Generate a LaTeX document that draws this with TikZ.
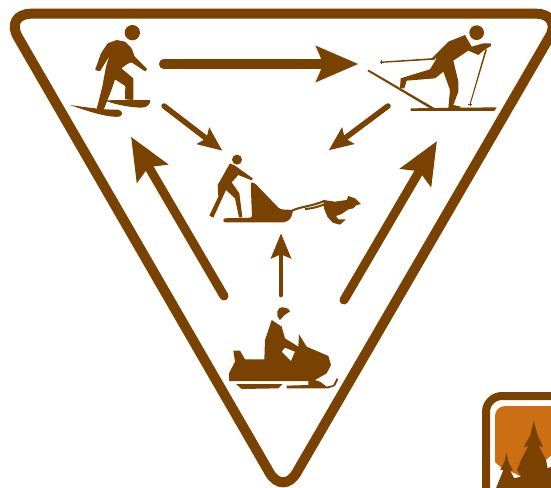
\documentclass[tikz,border=0pt]{standalone}
\usetikzlibrary{arrows.meta}
\definecolor{bb}{HTML}{7A4200}
\definecolor{oo}{HTML}{CC6F14}
\tikzset{
  big/.style={draw=bb,line width=9pt,line cap=round,-{Stealth[length=42pt,width=35pt,inset=7pt]}},
  mid/.style={draw=bb,line width=5.5pt,line cap=round,-{Stealth[length=24pt,width=20pt,inset=4pt]}},
  sm/.style={draw=bb,line width=4.8pt,line cap=round,-{Stealth[length=25pt,width=20pt,inset=4pt]}},
}
\begin{document}
\begin{tikzpicture}[x=1pt,y=-1pt]
\clip (0,0) rectangle (551,487);
\fill[white] (0,0) rectangle (551,487);
% triangle
\draw[bb,line width=10pt,rounded corners=27pt,fill=white] (4.4,13.7)--(563,13.7)--(283,496)--cycle;
% snowshoe
\begin{scope}[shift={(60,10)},scale=1/3]
\fill[bb] (217,68) circle (23);
\fill[bb,rounded corners=.8pt] (170,90)--(195,95)--(215,115)--(224,140)--(262,178)--(255,184)--(215,157)--(205,160)--(184,175)--(220,205)--(220,270)--(195,268)--(196,228)--(165,208)--(155,238)--(132,297)--(110,297)--(127,230)--(138,170)--(148,138)--(120,184)--(105,180)--(123,130)--(143,100)--cycle;
\fill[bb] (30,285) .. controls (80,292) and (130,300) .. (175,299) .. controls (188,302) and (190,315) .. (178,320) .. controls (150,323) and (100,310) .. (30,285)--cycle;
\fill[bb] (135,272) .. controls (170,268) and (230,272) .. (270,270) .. controls (272,280) and (265,292) .. (245,293) .. controls (210,292) and (170,285) .. (135,272)--cycle;
\end{scope}
% skier
\begin{scope}[shift={(360,10)},scale=1/3]
\fill[bb] (350,68) circle (22);
\fill[bb] (315,75)--(335,110)--(370,100)--(392,100)--(393,108)--(375,118)--(355,135)--(325,122)--(280,152)--(295,215)--(295,245)--(280,285)--(302,290)--(300,296)--(265,296)--(270,240)--(250,185)--(225,205)--(140,212)--(133,235)--(120,235)--(122,205)--(210,178)--(230,145)--(215,145)--(265,95)--cycle;
\fill[bb] (60,155)--(225,144)--(225,149)--(60,159)--cycle;
\draw[bb,line width=.6pt] (63,151)--(63,163) (330,276)--(330,287) (324,282)--(337,282);
\fill[bb] (376,118)--(381,118)--(332,282)--(329,282)--cycle;
\fill[bb] (22,183)--(26,179)--(225,295)--(215,298)--cycle;
\fill[bb] (152,295)--(410,292)--(403,303)--(152,303)--cycle;
\end{scope}
% sled
\begin{scope}[shift={(200,145)},scale=1/3]
\fill[bb] (111,44) circle (15);
\fill[bb] (90,55)--(105,62)--(158,100)--(155,106)--(115,90)--(95,112)--(118,145)--(127,217)--(117,217)--(105,160)--(78,135)--(40,218)--(28,212)--(55,155)--(53,120)--cycle;
\fill[bb,rounded corners=2pt] (152,112)--(162,112)--(240,193)--(280,195)--(272,222)--(255,232)--(70,232)--(70,220)--(156,218)--cycle;
\end{scope}
% dog
\begin{scope}[shift={(290,190)},scale=1/3]
\draw[bb,line width=2pt] (6,62) .. controls (30,50) and (70,48) .. (102,33);
\draw[bb,line width=2pt] (45,57) .. controls (65,56) and (85,50) .. (104,43);
\fill[bb] (100,30)--(135,35)--(170,30)--(175,18)--(195,25)--(213,42)--(200,45)--(190,55)--(175,58)--(155,72)--(138,78)--(145,88)--(167,88)--(160,95)--(150,104)--(128,98)--(112,80)--(102,55)--cycle;
\end{scope}
% snowmobile
\begin{scope}[shift={(220,300)},scale=1/3]
\fill[bb] (190,22) .. controls (170,20) and (165,45) .. (180,60) .. controls (190,50) and (190,45) .. (210,35) .. controls (205,25) and (200,23) .. (190,22)--cycle;
\fill[bb,even odd rule] (27,243)--(27,220)--(45,185)--(40,152)--(60,152)--(75,178)--(133,178)--(135,120)--(155,60)--(185,80)--(195,115)--(235,140)--(237,103)--(260,140)--(325,168)--(333,195)--(320,220)--(285,240)--(300,245)--(320,260)--(340,255)--(350,235)--(355,237)--(345,258)--(325,265)--(200,265)--(200,257)--(265,255)--(265,243)--cycle
 (185,155)--(195,143)--(225,155)--(213,183)--cycle;
\fill[bb] (48,252)--(188,252)--(175,265)--(65,267)--cycle;
\end{scope}
% arrows
\coordinate (a1) at (163.5,64); \coordinate (a2) at (358.5,64);
\coordinate (b1) at (164,106); \coordinate (b2) at (222.3,150.7);
\coordinate (c1) at (388,106); \coordinate (c2) at (328.7,150.3);
\coordinate (d1) at (224,296); \coordinate (d2) at (131,136.7);
\coordinate (e1) at (344,300); \coordinate (e2) at (437,141);
\coordinate (f1) at (281,295); \coordinate (f2) at (281,233.3);
\draw[big] (a1)--(a2);
\draw[big] (d1)--(d2);
\draw[big] (e1)--(e2);
\draw[mid] (b1)--(b2);
\draw[mid] (c1)--(c2);
\draw[sm] (f1)--(f2);
% corner sign
\fill[white] (481,391) rectangle (560,490);
\draw[bb,line width=8pt,rounded corners=16pt] (486,500)--(486,396)--(600,396);
\fill[oo,rounded corners=10pt] (495,406) rectangle (600,520);
\begin{scope}[shift={(491,415)},scale=1/3]
\fill[white] (10,140)--(30,158)--(60,170)--(100,190)--(165,135)--(181,122)--(181,220)--(10,220)--cycle;
\fill[bb] (128,18)--(140,60)--(157,97)--(143,92)--(165,135)--(170,160)--(180,155)--(180,220)--(15,220)--(37,165)--(28,165)--(40,140)--(47,112)--(52,140)--(65,165)--(58,168)--(70,190)--(88,185)--(75,200)--(90,185)--(78,165)--(90,135)--(112,93)--(98,97)--(118,60)--cycle;
\end{scope}
\end{tikzpicture}
\end{document}
